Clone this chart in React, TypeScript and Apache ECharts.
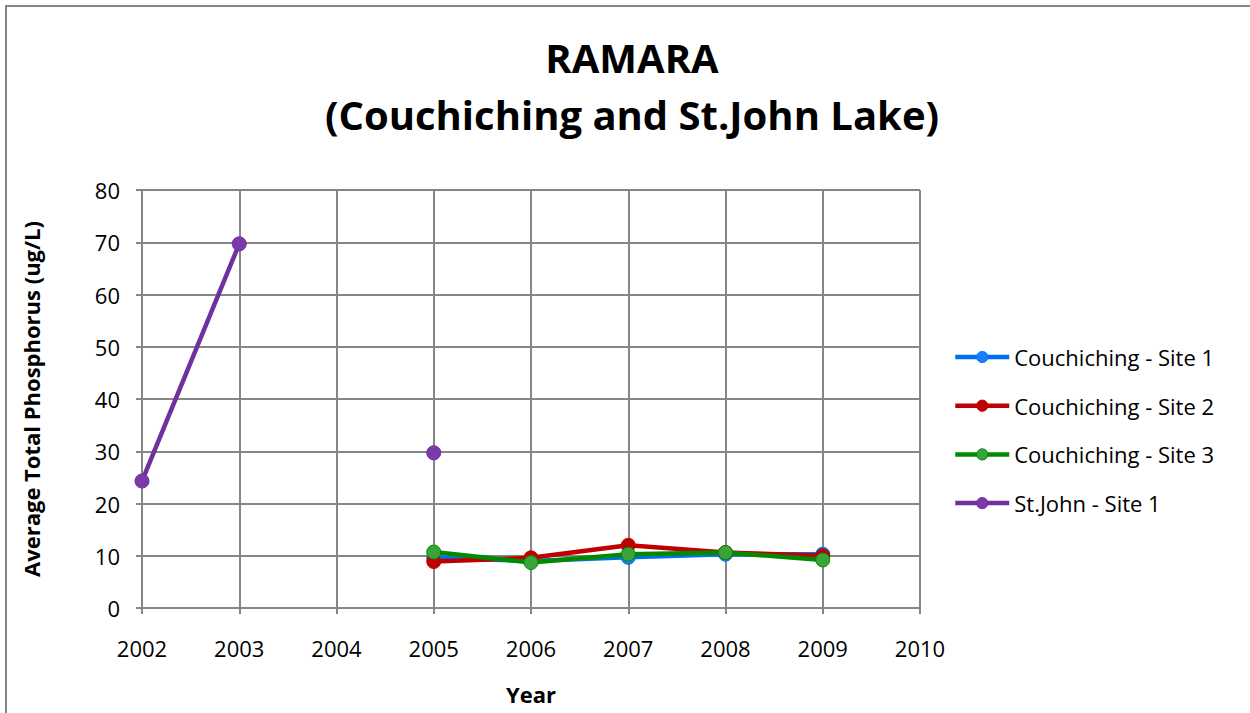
import React, { useEffect, useRef } from "react";
import * as echarts from "echarts";

const years = [2002, 2003, 2004, 2005, 2006, 2007, 2008, 2009];
const site1: (number | null)[] = [null, null, null, 9.6, 9.0, 9.7, 10.3, 10.3];
const site2: (number | null)[] = [null, null, null, 8.9, 9.6, 12.0, 10.6, 10.0];
const site3: (number | null)[] = [null, null, null, 10.7, 8.7, 10.3, 10.6, 9.2];
const stjohn: (number | null)[] = [24.3, 69.7, null, 29.7, null, null, null, null];

const seriesNames = ["Couchiching - Site 1", "Couchiching - Site 2", "Couchiching - Site 3", "St.John - Site 1"];
const lineColors = ["#0070f0", "#c00000", "#008a00", "#7030a0"];
const markerColors = ["#1a7fff", "#c00000", "#3aa33a", "#7a3aaa"];

const FONT = "'Open Sans', 'Liberation Sans', sans-serif";

export default function App() {
  const ref = useRef<HTMLDivElement>(null);
  useEffect(() => {
    const chart = echarts.init(ref.current!, null, { renderer: "svg" });
    const datasets = [site1, site2, site3, stjohn];
    chart.setOption({
      animation: false,
      backgroundColor: "#ffffff",
      title: {
        text: "RAMARA\n(Couchiching and St.John Lake)",
        left: 627,
        textAlign: "center",
        top: 24,
        textStyle: { fontFamily: FONT, fontWeight: "bold", fontSize: 40, lineHeight: 57, color: "#000" },
      },
      legend: {
        orient: "vertical",
        left: 948,
        top: 341,
        itemWidth: 54,
        itemHeight: 14,
        itemGap: 26.7,
        lineStyle: { width: 4.5 },
        itemStyle: { borderWidth: 1 },
        textStyle: { fontFamily: FONT, fontSize: 22, color: "#000" },
        data: seriesNames,
      },
      grid: { left: 142, right: 330, top: 190, bottom: 105, containLabel: false },
      xAxis: {
        type: "value",
        min: 2002,
        max: 2010,
        interval: 1,
        name: "Year",
        nameLocation: "middle",
        nameGap: 75,
        nameTextStyle: { fontFamily: FONT, fontWeight: "bold", fontSize: 22, color: "#000" },
        axisLine: { show: true, lineStyle: { color: "#868686", width: 2 } },
        axisTick: { show: true, length: 6, lineStyle: { color: "#868686", width: 2 } },
        axisLabel: { fontFamily: FONT, fontSize: 22, color: "#000", margin: 29, formatter: (v: number) => String(v) },
        splitLine: { show: true, lineStyle: { color: "#868686", width: 2 } },
      },
      yAxis: {
        type: "value",
        min: 0,
        max: 80,
        interval: 10,
        name: "Average Total Phosphorus (ug/L)",
        nameLocation: "middle",
        nameGap: 100,
        nameTextStyle: { fontFamily: FONT, fontWeight: "bold", fontSize: 22, color: "#000" },
        axisLine: { show: true, lineStyle: { color: "#868686", width: 2 } },
        axisTick: { show: true, length: 6, lineStyle: { color: "#868686", width: 2 } },
        axisLabel: { fontFamily: FONT, fontSize: 22, color: "#000", margin: 22 },
        splitLine: { show: true, lineStyle: { color: "#868686", width: 2 } },
      },
      graphic: [
        {
          type: "rect",
          shape: { x: 6, y: 6, width: 1300, height: 800 },
          style: { fill: "none", stroke: "#868686", lineWidth: 2 },
          silent: true,
        },
      ],
      series: datasets.map((d, i) => ({
        name: seriesNames[i],
        type: "line",
        data: years.map((y, j) => [y, d[j]]),
        connectNulls: false,
        symbol: "circle",
        symbolSize: 14,
        showSymbol: true,
        lineStyle: { color: lineColors[i], width: 4.5 },
        itemStyle: { color: markerColors[i], borderColor: lineColors[i], borderWidth: 1, opacity: 1 },
        z: i === 3 ? 5 : 2 + i,
      })),
    });
    return () => chart.dispose();
  }, []);
  return <div ref={ref} style={{ position: "absolute", left: 0, top: 0, width: 1250, height: 713 }} />;
}
